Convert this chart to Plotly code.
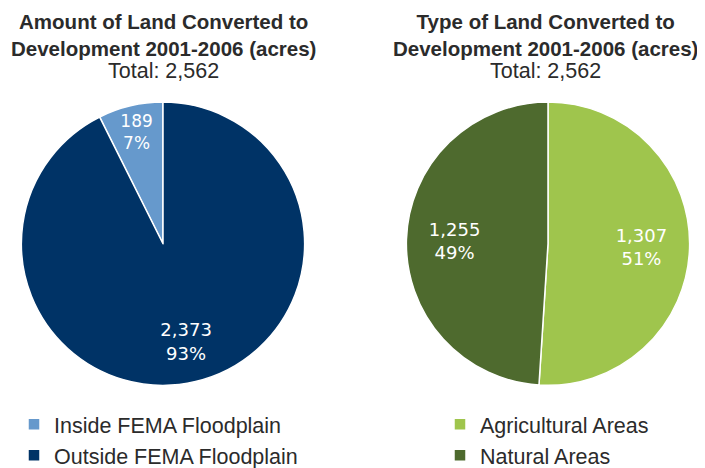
import plotly.graph_objects as go

# Data
loc_labels = ["Inside FEMA Floodplain", "Outside FEMA Floodplain"]
loc_values = [189, 2373]
loc_colors = ["#6699CC", "#003366"]

type_labels = ["Agricultural Areas", "Natural Areas"]
type_values = [1307, 1255]
type_colors = ["#9FC54D", "#4E6A2E"]

title1 = "Amount of Land Converted to<br>Development 2001-2006 (acres)"
title2 = "Type of Land Converted to<br>Development 2001-2006 (acres)"
subtitle = "Total: 2,562"

W, H = 705, 468
OFF = 8


def px(x):
    return (x - OFF) / W


def py(y):
    return 1 - (y - OFF) / H


# first slice of left pie sits just left of 12 o'clock
rot1 = -360 * loc_values[0] / sum(loc_values)

lblfont = dict(family="DejaVu Sans", size=18, color="white")
dom1 = dict(x=[px(17), px(309)], y=[py(397), py(105)])
dom2 = dict(x=[px(402), px(694)], y=[py(397), py(105)])
clear = "rgba(0,0,0,0)"

fig = go.Figure()
# visible slices
fig.add_trace(go.Pie(
    labels=loc_labels, values=loc_values, sort=False, direction="clockwise",
    rotation=rot1, textinfo="none",
    marker=dict(colors=loc_colors, line=dict(color="white", width=1.5)),
    domain=dom1, legend="legend", hoverinfo="label+value+percent",
))
fig.add_trace(go.Pie(
    labels=type_labels, values=type_values, sort=False, direction="clockwise",
    textinfo="none",
    marker=dict(colors=type_colors, line=dict(color="white", width=1.5)),
    domain=dom2, legend="legend2", hoverinfo="label+value+percent",
))
# value / percent labels (transparent ring places the labels further out)
fig.add_trace(go.Pie(
    labels=loc_labels, values=loc_values, sort=False, direction="clockwise",
    rotation=rot1, hole=0.42, showlegend=False, hoverinfo="skip",
    marker=dict(colors=[clear, clear], line=dict(width=0)),
    texttemplate="%{value:,}<br>%{percent:.0%}", textposition="inside",
    insidetextorientation="horizontal", insidetextfont=lblfont,
    domain=dom1,
))
fig.add_trace(go.Pie(
    labels=type_labels, values=type_values, sort=False, direction="clockwise",
    hole=0.32, showlegend=False, hoverinfo="skip",
    marker=dict(colors=[clear, clear], line=dict(width=0)),
    texttemplate="%{value:,}<br>%{percent:.0%}", textposition="inside",
    insidetextorientation="horizontal", insidetextfont=lblfont,
    domain=dom2,
))

tfont = dict(family="Liberation Sans", size=20.5, color="#2b2b2b")
sfont = dict(family="Liberation Sans", size=21.5, color="#2b2b2b")
anns = []
for cx, t in [(163, title1), (545, title2)]:
    anns.append(dict(text="<b>" + t + "</b>", x=px(cx), y=1, xref="paper", yref="paper",
                     xanchor="center", yanchor="top", showarrow=False, font=tfont))
    anns.append(dict(text=subtitle, x=px(cx), y=py(73), xref="paper", yref="paper",
                     xanchor="center", yanchor="middle", showarrow=False, font=sfont))

lfont = dict(family="Liberation Sans", size=21.5, color="#2b2b2b")
fig.update_layout(
    width=W, height=H,
    margin=dict(l=0, r=0, t=0, b=0),
    paper_bgcolor="white", plot_bgcolor="white",
    annotations=anns,
    legend=dict(x=px(14), y=py(416), xanchor="left", yanchor="top", font=lfont,
                bgcolor="rgba(0,0,0,0)", tracegroupgap=0, itemwidth=30),
    legend2=dict(x=px(440), y=py(416), xanchor="left", yanchor="top", font=lfont,
                 bgcolor="rgba(0,0,0,0)", tracegroupgap=0, itemwidth=30),
)

fig.write_html("out.html")
